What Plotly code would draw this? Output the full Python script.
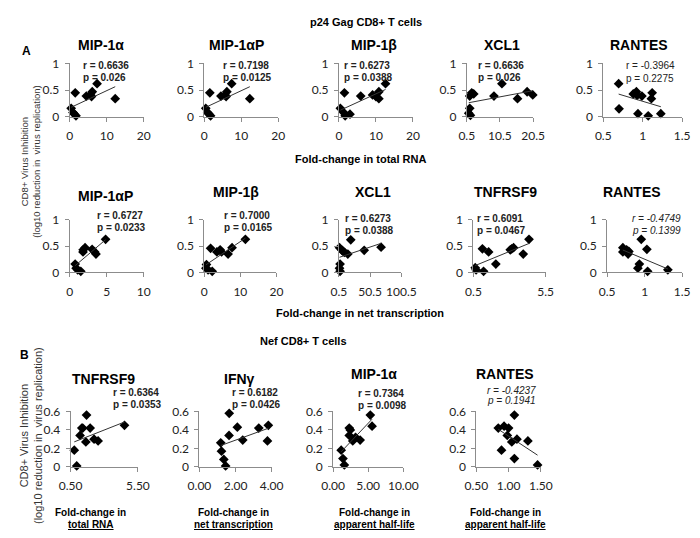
import numpy as np
import plotly.graph_objects as go

# ---------------- data ----------------
# A, top row: p24 Gag CD8+ T cells vs fold-change in total RNA
a1_mip1a_x = [0.4, 0.9, 1.3, 1.7, 1.5, 4.5, 5.6, 6.1, 5.9, 7.4, 12.3]
a1_mip1a_y = [0.16, 0.08, 0.05, 0.02, 0.45, 0.39, 0.41, 0.47, 0.38, 0.62, 0.34]
a1_mip1ap_x = [0.4, 0.9, 1.3, 1.7, 1.5, 4.5, 5.6, 6.1, 5.9, 7.4, 12.3]
a1_mip1ap_y = [0.16, 0.08, 0.05, 0.02, 0.45, 0.39, 0.41, 0.47, 0.38, 0.62, 0.34]
a1_mip1b_x = [0.4, 1.3, 1.7, 1.5, 3.0, 5.9, 9.1, 10.0, 10.8, 10.8, 12.6]
a1_mip1b_y = [0.16, 0.08, 0.02, 0.45, 0.05, 0.39, 0.41, 0.38, 0.47, 0.34, 0.62]
a1_xcl1_x = [1.4, 1.1, 1.6, 1.4, 2.0, 2.6, 8.7, 11.1, 15.8, 18.7, 20.4]
a1_xcl1_y = [0.16, 0.07, 0.03, 0.39, 0.45, 0.43, 0.39, 0.62, 0.34, 0.47, 0.41]
a1_rantes_x = [0.695, 0.70, 0.88, 0.92, 0.93, 0.99, 0.94, 1.07, 1.11, 1.12, 1.23]
a1_rantes_y = [0.62, 0.15, 0.43, 0.47, 0.40, 0.39, 0.06, 0.02, 0.34, 0.45, 0.06]

# A, second row: vs fold-change in net transcription
a2_mip1ap_x = [0.74, 0.87, 1.08, 1.5, 1.82, 2.08, 1.8, 3.03, 3.38, 3.55, 4.85]
a2_mip1ap_y = [0.16, 0.08, 0.05, 0.02, 0.43, 0.47, 0.39, 0.44, 0.39, 0.35, 0.63]
a2_mip1b_x = [0.6, 0.45, 1.05, 2.2, 1.75, 3.5, 4.4, 4.8, 6.6, 7.7, 11.4]
a2_mip1b_y = [0.15, 0.08, 0.05, 0.02, 0.46, 0.39, 0.43, 0.39, 0.35, 0.47, 0.63]
a2_xcl1_x = [1.5, 5.6, 7.3, 9.7, 14.8, 2.4, 1.5, 2.4, 19.5, 41, 68]
a2_xcl1_y = [0.47, 0.42, 0.40, 0.38, 0.35, 0.16, 0.08, 0.02, 0.62, 0.42, 0.48]
a2_tnfrsf9_x = [0.68, 0.62, 1.2, 1.12, 1.55, 2.05, 3.05, 3.15, 3.28, 3.95, 4.35]
a2_tnfrsf9_y = [0.05, 0.09, 0.02, 0.45, 0.39, 0.16, 0.43, 0.45, 0.47, 0.35, 0.63]
a2_rantes_x = [0.71, 0.71, 0.76, 0.79, 0.78, 0.955, 0.93, 0.91, 1.03, 1.04, 1.31]
a2_rantes_y = [0.47, 0.39, 0.43, 0.40, 0.35, 0.63, 0.16, 0.08, 0.44, 0.02, 0.05]

# B: Nef CD8+ T cells
b_tnfrsf9_x = [0.77, 0.95, 1.2, 1.33, 1.4, 1.68, 1.63, 1.95, 2.24, 2.54, 4.5]
b_tnfrsf9_y = [0.18, 0.01, 0.34, 0.42, 0.42, 0.56, 0.27, 0.42, 0.30, 0.28, 0.45]
b_ifng_x = [1.18, 1.22, 1.35, 1.45, 1.64, 1.65, 2.10, 2.40, 3.29, 3.82, 3.77]
b_ifng_y = [0.26, 0.17, 0.08, 0.01, 0.34, 0.58, 0.43, 0.29, 0.42, 0.45, 0.28]
b_mip1a_x = [1.15, 1.4, 1.6, 2.3, 2.45, 2.8, 3.2, 3.85, 2.3, 5.3, 5.55]
b_mip1a_y = [0.18, 0.09, 0.02, 0.42, 0.40, 0.28, 0.32, 0.29, 0.34, 0.56, 0.44]
b_rantes_x = [1.09, 0.84, 0.93, 1.0, 0.98, 1.05, 1.13, 1.30, 0.89, 1.09, 1.45]
b_rantes_y = [0.56, 0.42, 0.44, 0.42, 0.34, 0.27, 0.30, 0.28, 0.18, 0.09, 0.02]

a1_titles = ["MIP-1α", "MIP-1αP", "MIP-1β", "XCL1", "RANTES"]
a1_r = ["0.6636", "0.7198", "0.6273", "0.6636", "-0.3964"]
a1_p = ["0.026", "0.0125", "0.0388", "0.026", "0.2275"]
a2_titles = ["MIP-1αP", "MIP-1β", "XCL1", "TNFRSF9", "RANTES"]
a2_r = ["0.6727", "0.7000", "0.6273", "0.6091", "-0.4749"]
a2_p = ["0.0233", "0.0165", "0.0388", "0.0467", "0.1399"]
b_titles = ["TNFRSF9", "IFNγ", "MIP-1α", "RANTES"]
b_r = ["0.6364", "0.6182", "0.7364", "-0.4237"]
b_p = ["0.0353", "0.0426", "0.0098", "0.1941"]
b_xlabels = ["total RNA", "net transcription", "apparent half-life", "apparent half-life"]

a1_xticks = [[0, 10, 20], [0, 10, 20], [0, 10, 20], [0.5, 10.5, 20.5], [0.5, 1, 1.5]]
a2_xticks = [[0, 5, 10], [0, 10, 20], [0.5, 50.5, 100.5], [0.5, 5.5], [0.5, 1, 1.5]]
b_xticks = [[0.5, 5.5], [0, 2, 4], [0, 5, 10], [0.5, 1, 1.5]]
a_yticks = [0, 0.5, 1]
b_yticks = [0, 0.2, 0.4, 0.6]

# ---------------- layout helpers ----------------
W, H = 700, 538
AX = "#8c8c8c"
TICKFONT = dict(family="Lato, Carlito, sans-serif", size=12, color="#222")
ARIAL = "Liberation Sans, Arial, sans-serif"


def fx(px):
    return px / W


def fy(py):
    return 1 - py / H


# (x data, y data, left px, right px, x range, x ticks, title, title pos, stat pos, stat style, r, p, row)
panels = [
    (a1_mip1a_x, a1_mip1a_y, 60, 137, [0, 20], a1_xticks[0], a1_titles[0], (93, 38), (72, 59, 71), "b", a1_r[0], a1_p[0], "a1"),
    (a1_mip1ap_x, a1_mip1ap_y, 200, 277, [0, 20], a1_xticks[1], a1_titles[1], (233, 38), (217, 59, 71), "b", a1_r[1], a1_p[1], "a1"),
    (a1_mip1b_x, a1_mip1b_y, 340, 417, [0, 20], a1_xticks[2], a1_titles[2], (377, 38), (343, 59, 71), "b", a1_r[2], a1_p[2], "a1"),
    (a1_xcl1_x, a1_xcl1_y, 473, 542, [0.5, 20.5], a1_xticks[3], a1_titles[3], (510, 38), (483, 59, 71), "b", a1_r[3], a1_p[3], "a1"),
    (a1_rantes_x, a1_rantes_y, 615, 697, [0.5, 1.5], a1_xticks[4], a1_titles[4], (652, 38), (637, 59, 73), "n", a1_r[4], a1_p[4], "a1"),
    (a2_mip1ap_x, a2_mip1ap_y, 60, 137, [0, 10], a2_xticks[0], a2_titles[0], (97, 193), (86, 213, 226), "b", a2_r[0], a2_p[0], "a2"),
    (a2_mip1b_x, a2_mip1b_y, 200, 275, [0, 20], a2_xticks[1], a2_titles[1], (233, 189), (218, 213, 226), "b", a2_r[1], a2_p[1], "a2"),
    (a2_xcl1_x, a2_xcl1_y, 340, 405, [0.5, 100.5], a2_xticks[2], a2_titles[2], (375, 189), (344, 217, 229), "b", a2_r[2], a2_p[2], "a2"),
    (a2_tnfrsf9_x, a2_tnfrsf9_y, 480, 555, [0.5, 5.5], a2_xticks[3], a2_titles[3], (513, 189), (482, 217, 229), "b", a2_r[3], a2_p[3], "a2"),
    (a2_rantes_x, a2_rantes_y, 619, 697, [0.5, 1.5], a2_xticks[4], a2_titles[4], (645, 189), (643, 217, 229), "i", a2_r[4], a2_p[4], "a2"),
    (b_tnfrsf9_x, b_tnfrsf9_y, 61, 131, [0.5, 5.5], b_xticks[0], b_titles[0], (95, 382), (103, 396, 408), "b", b_r[0], b_p[0], "b"),
    (b_ifng_x, b_ifng_y, 195, 270, [0, 4], b_xticks[1], b_titles[1], (237, 382), (227, 396, 408), "b", b_r[1], b_p[1], "b"),
    (b_mip1a_x, b_mip1a_y, 334, 407, [0, 10], b_xticks[2], b_titles[2], (377, 377), (358, 397, 409), "b", b_r[2], b_p[2], "b"),
    (b_rantes_x, b_rantes_y, 483, 550, [0.5, 1.5], b_xticks[3], b_titles[3], (513, 377), (492, 393, 404), "i", b_r[3], b_p[3], "b"),
]

rows = {
    "a1": dict(bottom=112, top=57, yrange=[0, 1], yticks=a_yticks, fmt=""),
    "a2": dict(bottom=272, top=218, yrange=[0, 1], yticks=a_yticks, fmt=""),
    "b": dict(bottom=472, top=415, yrange=[0, 0.6], yticks=b_yticks, fmt=".2f"),
}

fig = go.Figure()
ann = []
layout = {}

for i, (xs, ys, left, right, xr, xt, title, tpos, spos, sstyle, r, p, row) in enumerate(panels, start=1):
    rw = rows[row]
    xa, ya = f"x{i}", f"y{i}"
    fig.add_trace(go.Scatter(
        x=xs, y=ys, mode="markers", xaxis=xa, yaxis=ya, cliponaxis=False,
        marker=dict(symbol="diamond", size=7.5, color="black"), showlegend=False,
    ))
    # linear trend line over the data range
    k, c = np.polyfit(xs, ys, 1)
    lx = [min(xs), max(xs)]
    fig.add_trace(go.Scatter(
        x=lx, y=[k * v + c for v in lx], mode="lines", xaxis=xa, yaxis=ya,
        line=dict(color="#333", width=1), showlegend=False, cliponaxis=False,
    ))
    common = dict(showline=True, linecolor=AX, linewidth=1, showgrid=False, zeroline=False,
                  ticks="outside", ticklen=4, tickcolor=AX, tickfont=TICKFONT)
    layout[f"xaxis{i}"] = dict(domain=[fx(left), fx(right)], anchor=ya, range=xr,
                               tickvals=xt, tickformat=rw["fmt"], ticklabelstandoff=4, **common)
    layout[f"yaxis{i}"] = dict(domain=[fy(rw["bottom"]), fy(rw["top"])], anchor=xa,
                               range=rw["yrange"], tickvals=rw["yticks"], ticklabelstandoff=3, **common)

    ann.append(dict(text=f"<b>{title}</b>", x=fx(tpos[0]), y=fy(tpos[1]), xanchor="center", yanchor="middle",
                    font=dict(family=ARIAL, size=14, color="black")))
    rt, pt = f"r = {r}", f"p = {p}"
    if sstyle == "b":
        rt, pt = f"<b>{rt}</b>", f"<b>{pt}</b>"
    elif sstyle == "i":
        rt, pt = f"<i>{rt}</i>", f"<i>{pt}</i>"
    for txt, yy in ((rt, spos[1]), (pt, spos[2])):
        ann.append(dict(text=txt, x=fx(spos[0]), y=fy(yy), xanchor="left", yanchor="middle",
                        font=dict(family=ARIAL, size=10, color="#222")))

# B panel x labels
b_label_x = [82, 230, 377, 513]
for cx, lab in zip(b_label_x, b_xlabels):
    ann.append(dict(text="<b>Fold-change in</b>", x=fx(cx), y=fy(519), xanchor="center", yanchor="middle",
                    font=dict(family=ARIAL, size=10, color="black")))
    ann.append(dict(text=f"<b><u>{lab}</u></b>", x=fx(cx), y=fy(531), xanchor="center", yanchor="middle",
                    font=dict(family=ARIAL, size=10, color="black")))

texts = [
    ("<b>p24 Gag CD8+ T cells</b>", 368, 14, 11, "center"),
    ("<b>A</b>", 8, 44, 12, "left"),
    ("<b>Fold-change in total RNA</b>", 362, 155, 11, "center"),
    ("<b>Fold-change in net transcription</b>", 362, 314, 11, "center"),
    ("<b>Nef CD8+ T cells</b>", 303, 343, 11, "center"),
    ("<b>B</b>", 6, 357, 12, "left"),
]
for txt, x, y, s, xa in texts:
    ann.append(dict(text=txt, x=fx(x), y=fy(y), xanchor=xa, yanchor="middle",
                    font=dict(family=ARIAL, size=s, color="black")))

ann.append(dict(text="CD8+ Virus Inhibition<br>(log10 reduction in  virus replication)", textangle=-90,
                x=fx(19), y=fy(158), xanchor="center", yanchor="middle",
                font=dict(family=ARIAL, size=9.5, color="#333")))
ann.append(dict(text="CD8+ Virus Inhibition<br>(log10 reduction in  virus replication)", textangle=-90,
                x=fx(19), y=fy(440), xanchor="center", yanchor="middle",
                font=dict(family=ARIAL, size=11, color="#333")))

for a in ann:
    a.update(xref="paper", yref="paper", showarrow=False)

fig.update_layout(
    width=W, height=H, margin=dict(l=0, r=0, t=0, b=0),
    paper_bgcolor="white", plot_bgcolor="white",
    annotations=ann, **layout,
)
fig.write_html("out.html", config={"displayModeBar": False},
               post_script="document.body.style.margin='0';")
